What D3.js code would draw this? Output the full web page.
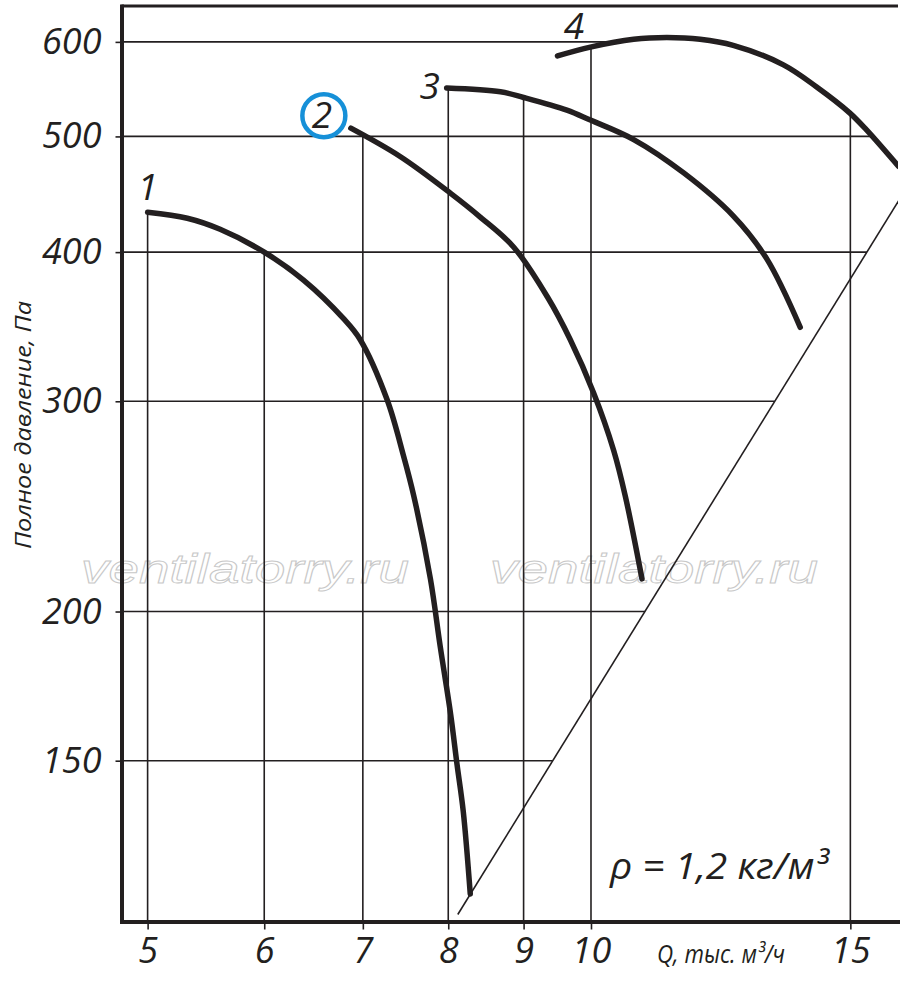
<!DOCTYPE html>
<html>
<head>
<meta charset="utf-8">
<script src="https://cdn.jsdelivr.net/npm/d3@7"></script>
<style>
  body { margin: 0; background: #fff; }
  text { font-family: "Open Sans", "Noto Sans", sans-serif; font-style: italic; fill: #231f20; }
</style>
</head>
<body>
<script>
// ticks: Q, тыс. м3/ч  and  P, Па
const xTicks = [5, 6, 7, 8, 9, 10, 15];
const yTicks = [150, 200, 300, 400, 500, 600];

// fan curves, [Q, P]
const curve1 = [[5.00, 432], [5.32, 427], [5.60, 418], [6.00, 400], [6.38, 379], [6.79, 352],
    [6.97, 338], [7.27, 301], [7.46, 270], [7.58, 250], [7.78, 213], [7.90, 187],
    [8.03, 164], [8.11, 149], [8.19, 136], [8.28, 116]];
const curve2 = [[6.87, 508], [7.42, 481], [8.03, 448], [8.41, 428], [8.86, 404], [9.34, 367],
    [9.68, 338], [10.04, 305], [10.36, 273], [10.55, 250], [10.83, 213]];
const curve3 = [[7.98, 549], [8.68, 545], [9.00, 539], [9.63, 526], [9.99, 516], [10.69, 497],
    [11.56, 466], [12.49, 429], [13.16, 395], [13.87, 346]];
const curve4 = [[9.49, 584], [9.99, 594], [10.69, 603], [11.26, 605], [11.86, 603], [12.49, 596],
    [13.51, 574], [14.23, 550], [14.99, 523], [15.39, 506], [16.17, 472]];
const curveNames = ["1", "2", "3", "4"];

// system line (P ~ Q^2)
const systemLine = [[8.12, 111.5], [16.2, 443]];

const width = 900, height = 982;
const margin = {top: 6, right: 2, bottom: 60.5, left: 121.5};
const ink = "#231f20";

const svg = d3.select("body").append("svg")
    .attr("width", width)
    .attr("height", height);

const x = d3.scaleLog().domain([4.8, 16.16]).range([margin.left, width - margin.right]);
const y = d3.scaleLog().domain([110, 643]).range([height - margin.bottom, margin.top]);

const curves = [curve1, curve2, curve3, curve4];
const L = Math.log;

// pressure of a curve at q (log-log interpolation), undefined outside it
function pAt(c, q) {
    if (q < c[0][0] - 1e-9 || q > c[c.length - 1][0]) return undefined;
    for (let i = 0; i < c.length - 1; i++) {
        const [q0, p0] = c[i], [q1, p1] = c[i + 1];
        if (q >= q0 && q <= q1) {
            const t = (L(q) - L(q0)) / (L(q1) - L(q0));
            return Math.exp(L(p0) + t * (L(p1) - L(p0)));
        }
    }
    return c[c.length - 1][1];
}

// first q where a curve meets pressure p
function crossQ(c, p) {
    for (let i = 0; i < c.length - 1; i++) {
        const [q0, p0] = c[i], [q1, p1] = c[i + 1];
        if ((p0 - p) * (p1 - p) <= 0) {
            const t = (L(p) - L(p0)) / (L(p1) - L(p0));
            return Math.exp(L(q0) + t * (L(q1) - L(q0)));
        }
    }
    return Infinity;
}

// q on the system line for pressure p
function systemQ(p) {
    const [[q0, p0], [q1, p1]] = systemLine;
    const n = (L(p1) - L(p0)) / (L(q1) - L(q0));
    return q0 * Math.pow(p / p0, 1 / n);
}

svg.append("defs").append("clipPath").attr("id", "plot")
    .append("rect")
    .attr("x", x.range()[0]).attr("y", y.range()[1])
    .attr("width", x.range()[1] - x.range()[0])
    .attr("height", y.range()[0] - y.range()[1]);

// watermarks
[81, 490].forEach(function(wx) {
    svg.append("text")
        .attr("x", wx).attr("y", 583)
        .attr("textLength", 328).attr("lengthAdjust", "spacingAndGlyphs")
        .style("font-family", "'Liberation Sans', Arial, sans-serif")
        .style("font-size", "40px")
        .style("fill", "none")
        .style("stroke", "#c8c8c8")
        .style("stroke-width", 0.9)
        .text("ventilatorry.ru");
});

// vertical grid: up to the highest curve at that flow
svg.append("g").selectAll("line")
    .data(xTicks)
    .enter().append("line")
    .attr("x1", d => x(d)).attr("x2", d => x(d))
    .attr("y1", y.range()[0])
    .attr("y2", d => y(d3.max(curves, c => pAt(c, d)) || y.domain()[1]))
    .attr("stroke", ink).attr("stroke-width", 1.6);

// horizontal grid: up to the outer curve or the system line
const outer = curves[curves.length - 1];
svg.append("g").selectAll("line")
    .data(yTicks)
    .enter().append("line")
    .attr("x1", x.range()[0])
    .attr("x2", d => x(Math.min(systemQ(d), crossQ(outer, d), x.domain()[1])))
    .attr("y1", d => y(d)).attr("y2", d => y(d))
    .attr("stroke", ink).attr("stroke-width", 1.6);

const plot = svg.append("g").attr("clip-path", "url(#plot)");

// system line
plot.append("path")
    .datum(systemLine)
    .attr("fill", "none")
    .attr("stroke", ink)
    .attr("stroke-width", 1.6)
    .attr("d", d3.line().x(d => x(d[0])).y(d => y(d[1])));

// fan curves
const line = d3.line()
    .x(d => x(d[0]))
    .y(d => y(d[1]))
    .curve(d3.curveCatmullRom.alpha(0.5));

plot.selectAll(".curve")
    .data(curves)
    .enter().append("path")
    .attr("class", "curve")
    .attr("fill", "none")
    .attr("stroke", ink)
    .attr("stroke-width", 5.5)
    .attr("stroke-linecap", "round")
    .attr("d", line);

// curve numbers next to the first point of each curve
const labelShift = [[0, -12], [-29, 0], [-17, 11], [16.5, -17]];
curves.forEach(function(c, i) {
    const lx = x(c[0][0]) + labelShift[i][0];
    const ly = y(c[0][1]) + labelShift[i][1];
    svg.append("text")
        .attr("x", lx).attr("y", ly)
        .attr("text-anchor", "middle")
        .style("font-size", "37px")
        .text(curveNames[i]);
    if (i === 1) {
        svg.append("circle")
            .attr("cx", lx + 2).attr("cy", ly - 12.5)
            .attr("r", 21.5)
            .attr("fill", "none")
            .attr("stroke", "#1690d8")
            .attr("stroke-width", 4.5);
    }
});

// X axis
const gx = svg.append("g")
    .attr("transform", "translate(0," + y.range()[0] + ")")
    .call(d3.axisBottom(x).tickValues(xTicks).tickFormat(d3.format("d"))
        .tickSize(8).tickSizeOuter(0).tickPadding(8));
gx.select(".domain").attr("stroke", ink).attr("stroke-width", 4)
    .attr("stroke-linecap", "square");
gx.selectAll(".tick line").attr("stroke", ink).attr("stroke-width", 1.6);
gx.selectAll(".tick text").style("font-size", "36px");

// Y axis
const gy = svg.append("g")
    .attr("transform", "translate(" + x.range()[0] + ",0)")
    .call(d3.axisLeft(y).tickValues(yTicks).tickFormat(d3.format("d"))
        .tickSize(6).tickSizeOuter(0).tickPadding(14));
gy.select(".domain").attr("stroke", ink).attr("stroke-width", 4)
    .attr("stroke-linecap", "square");
gy.selectAll(".tick line").attr("stroke", ink).attr("stroke-width", 1.6);
gy.selectAll(".tick text").style("font-size", "36px");

// top frame line
svg.append("line")
    .attr("x1", x.range()[0]).attr("x2", x.range()[1])
    .attr("y1", y.range()[1]).attr("y2", y.range()[1])
    .attr("stroke", ink).attr("stroke-width", 3);

// labels
svg.append("text")
    .attr("x", 657).attr("y", 963)
    .attr("textLength", 128).attr("lengthAdjust", "spacingAndGlyphs")
    .style("font-size", "25px")
    .text("Q, тыс. м³/ч");

svg.append("text")
    .attr("x", 610).attr("y", 879)
    .attr("textLength", 218).attr("lengthAdjust", "spacingAndGlyphs")
    .style("font-size", "37px")
    .text("ρ = 1,2 кг/м³");

svg.append("text")
    .attr("transform", "translate(31,425) rotate(-90)")
    .attr("text-anchor", "middle")
    .attr("textLength", 248).attr("lengthAdjust", "spacingAndGlyphs")
    .style("font-size", "22px")
    .text("Полное давление, Па");
</script>
</body>
</html>
